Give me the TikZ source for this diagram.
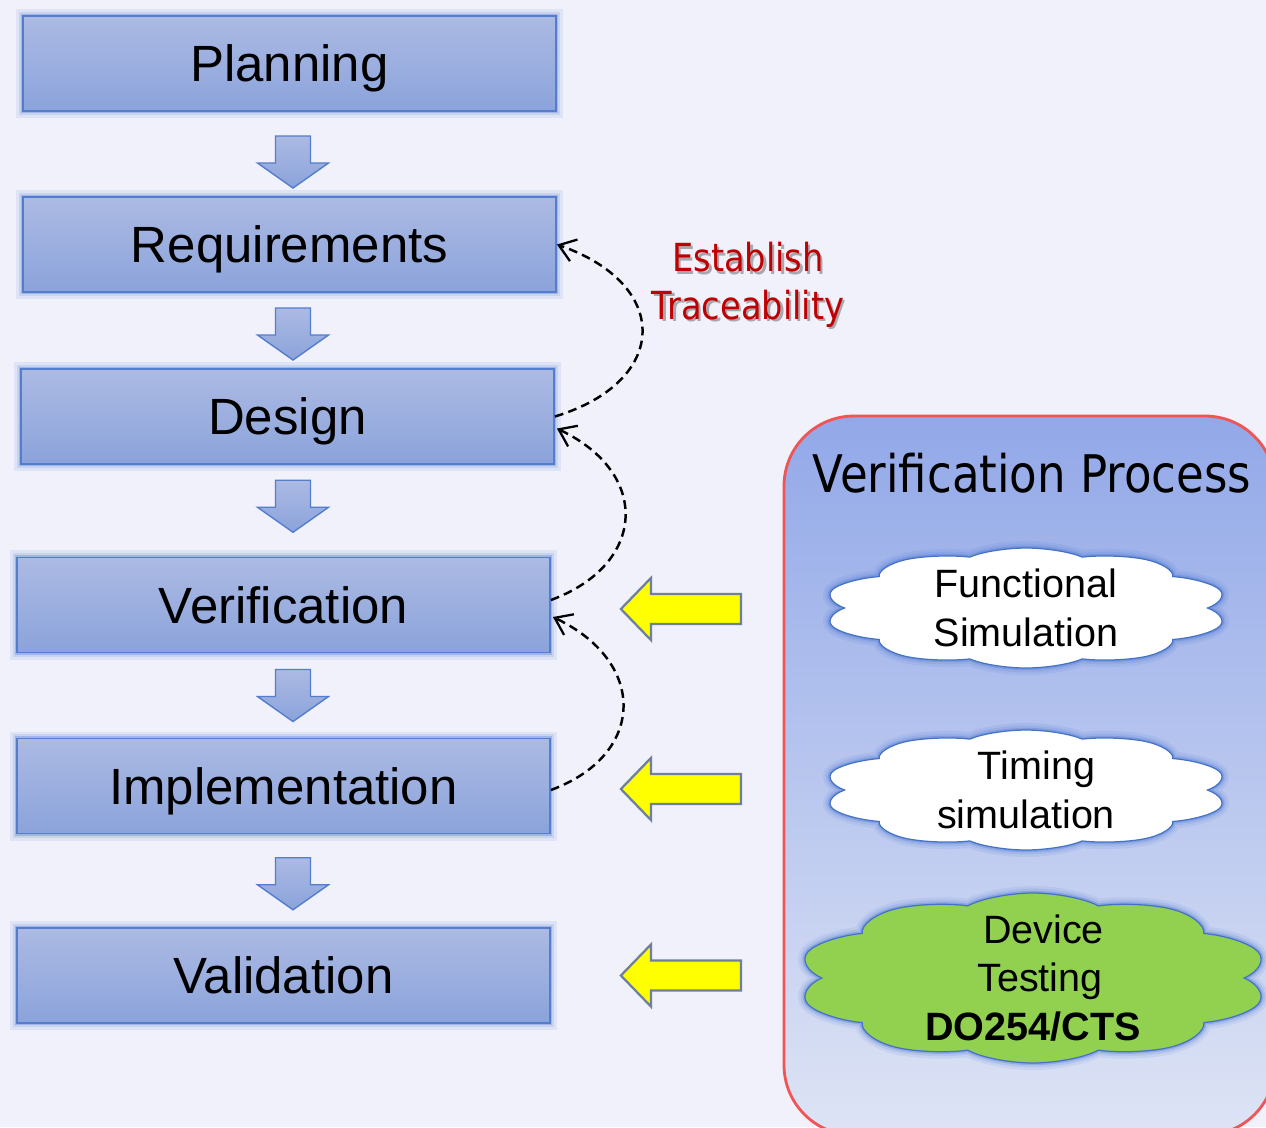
\documentclass[tikz,border=0pt]{standalone}
\usepackage{fontspec}
\setmainfont{Liberation Sans}
\newfontfamily\tahoma[FakeStretch=0.87]{DejaVu Sans}
\usetikzlibrary{positioning,calc,shapes.symbols,arrows.meta}

\definecolor{bgcol}{RGB}{240,241,250}
\definecolor{boxtop}{RGB}{172,186,227}
\definecolor{boxbot}{RGB}{139,163,219}
\definecolor{boxline}{RGB}{84,125,206}
\definecolor{glowcol}{RGB}{70,115,210}
\definecolor{paneltop}{RGB}{146,168,232}
\definecolor{panelbot}{RGB}{222,228,245}
\definecolor{panelline}{RGB}{240,84,84}
\definecolor{tracered}{RGB}{192,0,0}
\definecolor{yel}{RGB}{255,255,0}
\definecolor{yelline}{RGB}{110,128,155}
\definecolor{cloudline}{RGB}{68,114,196}
\definecolor{greencl}{RGB}{146,208,80}

\tikzset{
  glow/.style={preaction={draw=glowcol,line width=8pt,opacity=.1},
               preaction={draw=glowcol,line width=5pt,opacity=.15},
               preaction={draw=glowcol,line width=2.5pt,opacity=.3}},
  stage/.style={glow, draw=boxline, line width=1.1pt, top color=boxtop, bottom color=boxbot,
                minimum width=10.66cm, minimum height=1.9cm, inner sep=0pt,
                text height=20.8pt, text depth=0pt, font=\fontsize{29}{34}\selectfont},
  downarr/.style={draw=boxline, line width=.8pt, top color=boxtop, bottom color=boxbot},
  leftarr/.style={draw=yelline, line width=1.3pt, fill=yel},
  tracearr/.style={dash pattern=on 5pt off 3pt, line width=1.4pt,
                   -{Straight Barb[length=9pt,width=13pt,line width=1.3pt]}},
  puff/.style={cloud, cloud puffs=10, cloud puff arc=115, cloud ignores aspect, glow,
               draw=cloudline, line width=.7pt, minimum width=2.4cm, minimum height=2.4cm,
               inner sep=0pt, xscale=3.39, transform shape},
  cloudtxt/.style={align=center, font=\fontsize{22.5}{27.5}\selectfont}
}

\begin{document}
\begin{tikzpicture}[x=0.02cm,y=-0.02cm]
  \useasboundingbox (0,0) rectangle (1266,1127);
  \fill[bgcol] (0,0) rectangle (1266,1127);
  \clip (0,0) rectangle (1266,1127);

  % life cycle stages
  \node[stage] (plan) at (289.5,63.5) {Planning};
  \node[stage] (req) at (289.5,244.5) {Requirements};
  \node[stage] (des) at (287.5,416.5) {Design};
  \node[stage] (ver) at (283.5,605) {Verification};
  \node[stage] (imp) at (283.5,786) {Implementation};
  \node[stage] (val) at (283.5,975.5) {Validation};

  \coordinate (axis) at (293,0);
  \foreach \a/\b/\dy in {plan/req/8,req/des/3.5,des/ver/-4.5,ver/imp/0,imp/val/3} {
    \path ($(\a.south)!.5!(\b.north)$) coordinate (m);
    \draw[downarr] (m -| axis) ++(-17.5,\dy-26) -- ++(35,0) -- ++(0,27)
      -- ++(18,0) -- ++(-35.5,25) -- ++(-35.5,-25) -- ++(18,0) -- cycle;
  }

  % traceability
  \draw[tracearr] (des.east) .. controls +(115,-35) and +(115,40) .. (req.east);
  \draw[tracearr] ($(ver.east)+(0,-5)$) .. controls +(95,-35) and +(95,45) .. ($(des.east)+(2,12)$);
  \draw[tracearr] ($(imp.east)+(0,4)$) .. controls +(95,-35) and +(95,45) .. ($(ver.east)+(2,12)$);
  \node[font=\tahoma\fontsize{22}{27}\selectfont, text=black, opacity=.3, align=center]
    at (750.5,287.5) {Establish\\Traceability};
  \node[font=\tahoma\fontsize{22}{27}\selectfont, text=tracered, align=center]
    (lbl) at (748,285) {Establish\\Traceability};

  % verification process
  \draw[panelline, line width=1.6pt, top color=paneltop, bottom color=panelbot,
        rounded corners=1.4cm] (784,416) rectangle (1275,1135);
  \node[font=\tahoma\fontsize{29.5}{34}\selectfont] (vp) at (1032,473) {Verification Process};
  \begin{scope}[shift={(1026,608)}]
    \node[puff, fill=white] (fsim) at (0,0) {};
  \end{scope}
  \begin{scope}[shift={(1026,790)}]
    \node[puff, fill=white] (tsim) at (0,0) {};
  \end{scope}
  \begin{scope}[shift={(1033,978)}]
    \node[puff, fill=greencl, minimum width=3.4cm, minimum height=3.4cm, xscale=.8215]
      (dev) at (0,0) {};
  \end{scope}
  \node[cloudtxt] at (fsim) {Functional\\Simulation};
  \node[cloudtxt] at (tsim) {\hspace*{12pt}Timing\\simulation};
  \node[cloudtxt] at (dev) {\hspace*{12pt}Device\\\hspace*{8pt}Testing\\\textbf{DO254/CTS}};

  \foreach \n/\dy in {ver/4,imp/3,val/0}
    \draw[leftarr] ($(\n.east)+(70,\dy)$) -- ++(30,-31) -- ++(0,16) -- ++(90,0)
      -- ++(0,30) -- ++(-90,0) -- ++(0,16) -- cycle;
\end{tikzpicture}
\end{document}
